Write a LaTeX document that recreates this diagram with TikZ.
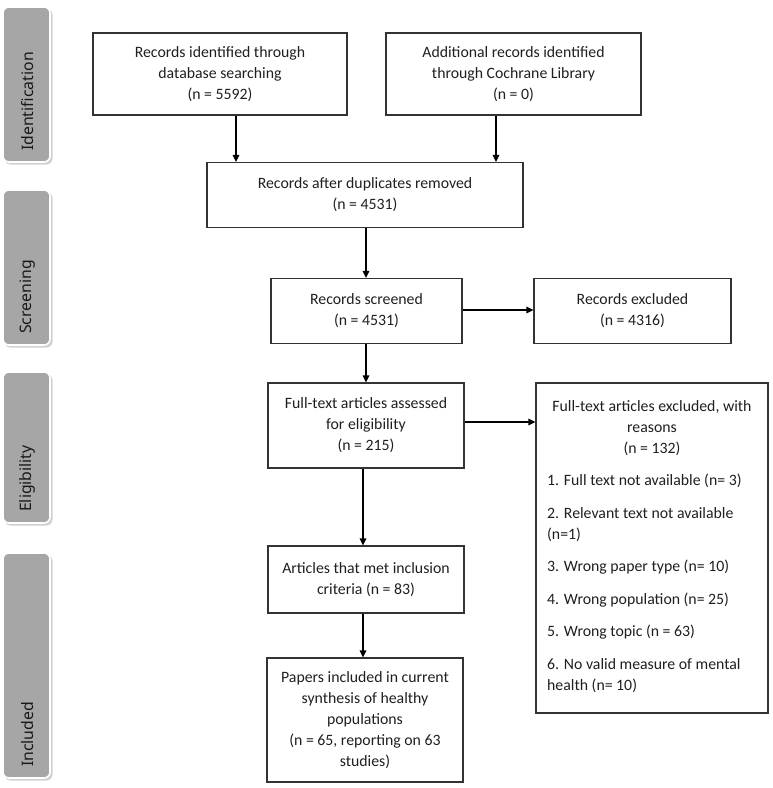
\documentclass[tikz,border=0pt]{standalone}
\usepackage{fontspec}
\setmainfont{Carlito}
\newfontfamily\sidefont{Noto Sans}
\usetikzlibrary{arrows.meta,positioning}
\definecolor{barfill}{HTML}{A6A6A6}
\definecolor{boxline}{HTML}{333333}
\definecolor{txt}{HTML}{1F1F1F}
\begin{document}
\begin{tikzpicture}[x=1pt,y=-1pt,
  flowbox/.style={draw=boxline,line width=1.1pt,rectangle,inner sep=0pt,align=center,
    text=txt,font=\fontsize{15.8}{21}\selectfont},
  sidebar/.style={draw=white,line width=1.6pt,fill=barfill,rounded corners=6pt},
  sidetext/.style={rotate=90,anchor=west,text=black!90,font=\sidefont\fontsize{15.8}{18}\selectfont,inner sep=0pt},
  flowarrow/.style={draw=black,line width=1.1pt,-{Triangle[length=7pt,width=6.5pt]}},
  plain/.style={inner sep=0pt,text=txt,font=\fontsize{15.8}{21}\selectfont}]
\useasboundingbox (0,0) rectangle (772,788);
% side bars
\foreach \t/\b/\name/\lab in {7/162/sid/Identification,190/345/sscr/Screening,372/523/selig/Eligibility,553/778/sincl/Included}{
  \fill[black!18,rounded corners=6pt] (4.5,\t+2) rectangle (52.5,\b+2.5);
  \draw[sidebar] (3,\t) rectangle (50,\b);
  \node[sidetext] (\name) at (27.5,\b-11) {\lab};
}
% boxes
\node[flowbox,minimum width=254pt,minimum height=82pt] (db) at (220,74) {Records identified through\\database searching\\(n = 5592)};
\node[flowbox,minimum width=255pt,minimum height=82pt] (add) at (513.5,74) {Additional records identified\\through Cochrane Library\\(n = 0)};
\node[flowbox,minimum width=316pt,minimum height=65pt] (dup) at (365,195) {Records after duplicates removed\\(n = 4531)};
\node[flowbox,minimum width=191pt,minimum height=65pt] (scr) at (366.5,311) {Records screened\\(n = 4531)};
\node[flowbox,minimum width=197pt,minimum height=65pt] (exc) at (632.5,311) {Records excluded\\(n = 4316)};
\node[flowbox,minimum width=196pt,minimum height=85pt] (full) at (366,425.5) {Full-text articles assessed\\for eligibility\\(n = 215)};
\node[flowbox,minimum width=232pt,minimum height=330pt] (fex) at (652,548) {};
\node[plain,align=center,anchor=north] (fext) at (652,400) {Full-text articles excluded, with\\reasons\\(n = 132)};
\node[plain,align=left,anchor=north west] (reasons) at (547,474) {1. Full text not available (n= 3)\\[11.5pt]
2. Relevant text not available\\(n=1)\\[11.5pt]
3. Wrong paper type (n= 10)\\[11.5pt]
4. Wrong population (n= 25)\\[11.5pt]
5. Wrong topic (n = 63)\\[11.5pt]
6. No valid measure of mental\\health (n= 10)};
\node[flowbox,minimum width=196pt,minimum height=67pt] (met) at (366,579.5) {Articles that met inclusion\\criteria (n = 83)};
\node[flowbox,minimum width=196pt,minimum height=124pt] (inc) at (365,720) {Papers included in current\\synthesis of healthy\\populations\\(n = 65, reporting on 63\\studies)};
% arrows
\draw[flowarrow] (db.south -| 236,0) -- (dup.north -| 236,0);
\draw[flowarrow] (add.south -| 496,0) -- (dup.north -| 496,0);
\draw[flowarrow] (dup.south -| 366,0) -- (scr.north -| 366,0);
\draw[flowarrow] (scr.east |- 0,310) -- (exc.west |- 0,310);
\draw[flowarrow] (scr.south -| 366,0) -- (full.north -| 366,0);
\draw[flowarrow] (full.east |- 0,422) -- (fex.west |- 0,422);
\draw[flowarrow] (full.south -| 363,0) -- (met.north -| 363,0);
\draw[flowarrow] (met.south -| 363,0) -- (inc.north -| 363,0);
\end{tikzpicture}
\end{document}
